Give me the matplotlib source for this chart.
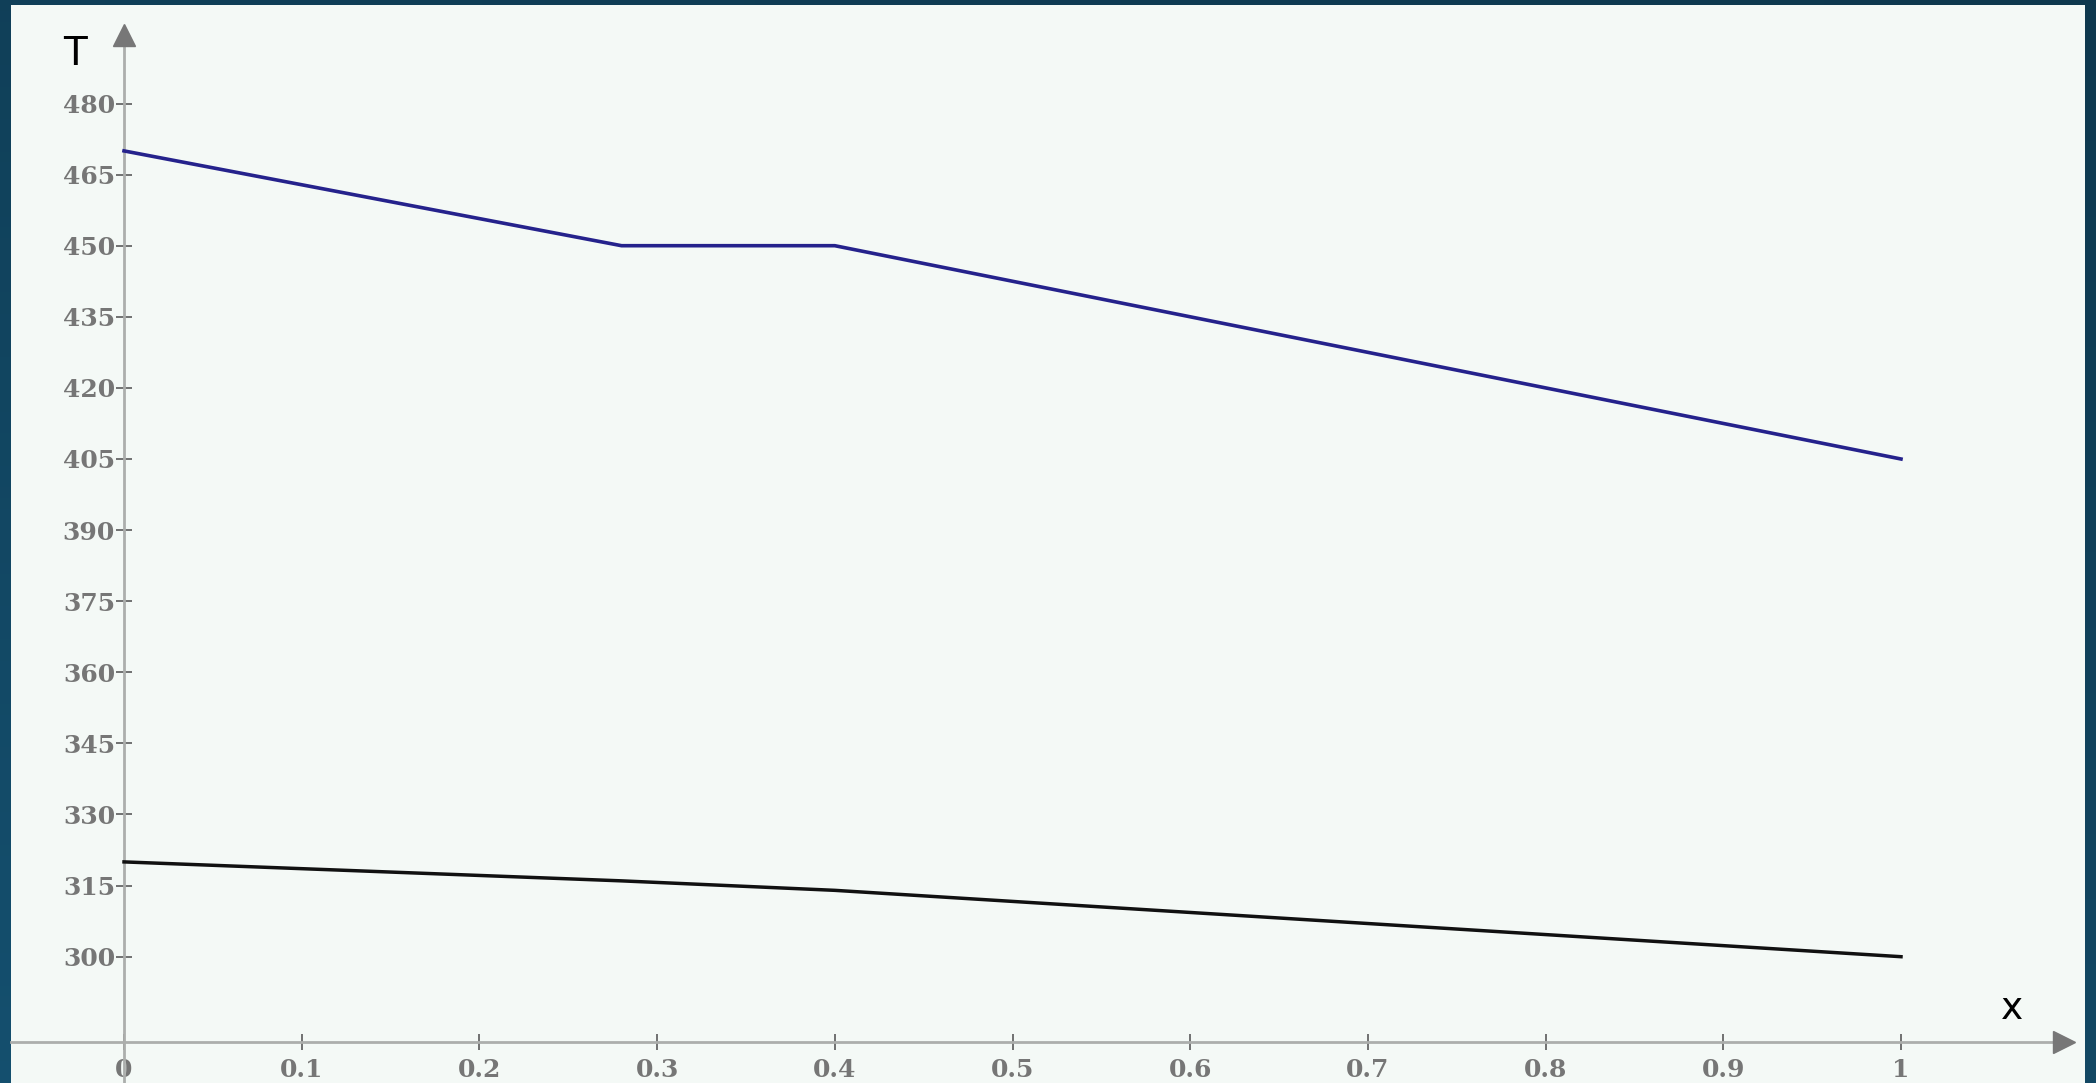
import numpy as np
import matplotlib
matplotlib.use("Agg")
import matplotlib.pyplot as plt

# data
x_hot = [0.0, 0.28, 0.4, 1.0]
T_hot = [470, 450, 450, 405]
x_cold = [0.0, 0.28, 0.4, 1.0]
T_cold = [320, 316, 314, 300]
xticks = [0, 0.1, 0.2, 0.3, 0.4, 0.5, 0.6, 0.7, 0.8, 0.9, 1]
xticklabels = ["0", "0.1", "0.2", "0.3", "0.4", "0.5", "0.6", "0.7", "0.8", "0.9", "1"]
yticks = list(range(300, 481, 15))

W, H = 2096, 1083
fig = plt.figure(figsize=(W / 100, H / 100), dpi=100)

# background gradient
bg = fig.add_axes([0, 0, 1, 1])
gx = np.linspace(0, 1, 200)
gy = np.linspace(0, 1, 100)
GX, GY = np.meshgrid(gx, gy)
t = np.clip(0.6 * (1 - GX) * 0.5 + 0.6 * GY, 0, 1)
c1 = np.array([0x0e, 0x38, 0x4e]) / 255
c2 = np.array([0x15, 0x52, 0x72]) / 255
img = c1[None, None, :] * (1 - t[..., None]) + c2[None, None, :] * t[..., None]
bg.imshow(img, aspect="auto", extent=[0, 1, 0, 1], origin="upper")
bg.set_axis_off()

# main panel
left_px, right_px, top_px, bot_px = 11, 2085, 5, 1083
ax = fig.add_axes([left_px / W, 1 - bot_px / H, (right_px - left_px) / W, (bot_px - top_px) / H])
ax.set_facecolor("#f4f9f6")

x0px, xscale = 124.0, 1777.0
y300px, yscale = 956.7, 71.1 / 15
ax.set_xlim((left_px - x0px) / xscale, (right_px - x0px) / xscale)
ax.set_ylim(300 - (bot_px - y300px) / yscale, 300 + (y300px - top_px) / yscale)

axis_y = 282
ax.spines["top"].set_visible(False)
ax.spines["right"].set_visible(False)
ax.spines["left"].set_position(("data", 0))
ax.spines["bottom"].set_position(("data", axis_y))
for s in ("left", "bottom"):
    ax.spines[s].set_color("#acaeac")
    ax.spines[s].set_linewidth(2.0)
ax.spines["left"].set_bounds(ax.get_ylim()[0], 492)
ax.spines["bottom"].set_bounds(ax.get_xlim()[0], 1.085)

ax.plot([1.092], [axis_y], marker=">", markersize=16, color="#777777", clip_on=False, zorder=5)
ax.plot([0], [494.5], marker="^", markersize=16, color="#777777", clip_on=False, zorder=5)

ax.set_xticks(xticks)
ax.set_xticklabels(xticklabels)
ax.set_yticks(yticks)
ax.tick_params(direction="inout", length=11, width=1.3, color="#666666",
               labelcolor="#767676", labelsize=18)
ax.tick_params(axis="x", pad=6)
ax.tick_params(axis="y", pad=1)
for lab in ax.get_xticklabels() + ax.get_yticklabels():
    lab.set_fontfamily("DejaVu Serif")
    lab.set_fontweight("bold")

ax.plot(x_hot, T_hot, color="#25228c", linewidth=2.6, zorder=4)
ax.plot(x_cold, T_cold, color="#111111", linewidth=2.5, zorder=4)

ax.text(-0.0276, 490.5, "T", fontsize=28, family="DejaVu Sans", color="black",
        ha="center", va="center")
ax.text(1.0625, 289.0, "x", fontsize=27, family="DejaVu Sans", color="black",
        ha="center", va="center")

fig.savefig("out.png", dpi=100)
